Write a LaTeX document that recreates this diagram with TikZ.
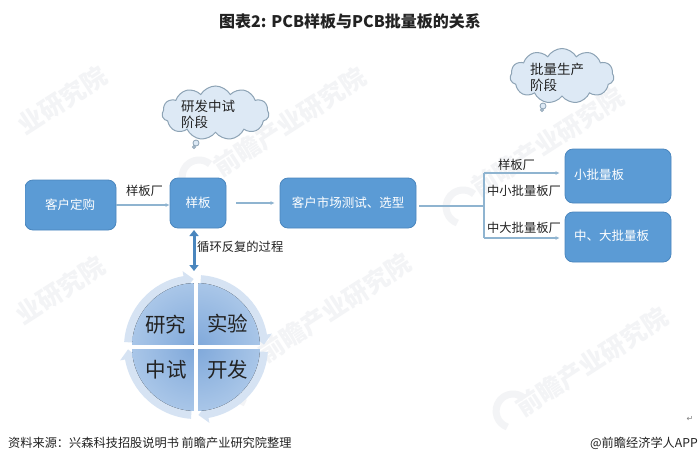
\documentclass[tikz,border=0pt]{standalone}
\usepackage{fontspec}
\setmainfont{Noto Sans CJK SC}
\newfontfamily\symbolfont{DejaVu Sans}
\usetikzlibrary{arrows.meta,shapes.symbols}
\definecolor{boxblue}{HTML}{5B9BD5}
\definecolor{boxedge}{HTML}{4A86BE}
\definecolor{linkblue}{HTML}{8FB4D0}
\definecolor{cloudfill}{HTML}{DDE9F5}
\definecolor{cloudedge}{HTML}{8DA3B5}
\definecolor{ringblue}{HTML}{D6E3F3}
\definecolor{quadin}{HTML}{7FA8DA}
\definecolor{quadout}{HTML}{A9C6E8}
\definecolor{wm}{HTML}{F3F4F6}
\definecolor{darktext}{HTML}{222222}
\tikzset{
  bluebox/.style={draw=boxedge,line width=0.8pt,fill=boxblue,rounded corners=8pt,inner sep=0pt},
  boxtext/.style={text=white,font=\fontsize{12.5}{14}\selectfont,inner sep=0pt,anchor=west},
  lab/.style={text=darktext,font=\fontsize{12.3}{14}\selectfont,inner sep=0pt},
  link/.style={draw=linkblue,line width=1.1pt,-{Latex[length=4pt,width=4pt]}},
  linkplain/.style={draw=linkblue,line width=1.1pt},
  thought/.style={cloud,cloud puffs=11,cloud puff arc=120,aspect=2,draw=cloudedge,line width=1pt,fill=cloudfill,inner sep=0pt},
  bubble/.style={circle,draw=cloudedge,line width=0.8pt,fill=cloudfill,inner sep=0pt},
  cytext/.style={text=darktext,font=\fontsize{13.5}{16}\selectfont,inner sep=0pt,anchor=west},
  quadtext/.style={text=darktext,font=\fontsize{20.5}{24}\selectfont,inner sep=0pt},
  water/.style={text=wm,font=\fontsize{25}{28}\selectfont\bfseries,rotate=33,inner sep=0pt},
  ring/.style={fill=ringblue,draw=none},
  quad/.style={inner color=quadin,outer color=quadout},
}
\begin{document}
\begin{tikzpicture}[x=1pt,y=-1pt]
\path[use as bounding box] (0,0) rectangle (700,464);
\fill[white] (0,0) rectangle (700,464);
% watermarks
\node[water] (w1) at (62,100) {业研究院};
\node[water] (w2) at (290,122) {前瞻产业研究院};
\node[water] (w3) at (548,142) {前瞻产业研究院};
\node[water] (w4) at (60,290) {业研究院};
\node[water] (w5) at (335,308) {前瞻产业研究院};
\node[water] (w6) at (592,362) {前瞻产业研究院};
\foreach \px/\py in {198/178,462/208,250/388,512/412}{
  \draw[wm,line width=7pt] (\px+12,\py-14) arc (-50:-250:17);
}
% title
\node[font=\fontsize{16}{18}\selectfont\bfseries,text=darktext,inner sep=0pt] (title) at (350,21) {图表2: PCB样板与PCB批量板的关系};
% clouds
\node[thought,minimum width=107pt,minimum height=54pt] (c1) at (215.5,113) {};
\node[bubble,minimum size=6pt] (c1a) at (196,143) {};
\node[bubble,minimum size=3pt] (c1b) at (194,147) {};
\node[cytext] (c1t) at (181,106) {研发中试};
\node[cytext] (c1u) at (181,122) {阶段};
\node[thought,minimum width=104pt,minimum height=55pt] (c2) at (562,76) {};
\node[bubble,minimum size=6pt] (c2a) at (543,106) {};
\node[bubble,minimum size=3pt] (c2b) at (542,110) {};
\node[cytext] (c2t) at (530,69) {批量生产};
\node[cytext] (c2u) at (530,85) {阶段};
% boxes
\node[bluebox,minimum width=91pt,minimum height=50pt] (b1) at (70.5,205) {};
\fill[white] (24,175) rectangle (25.2,235);
\node[boxtext,anchor=center] (b1t) at (70,204.5) {客户定购};
\node[bluebox,minimum width=56pt,minimum height=50pt] (b2) at (198,203) {};
\node[boxtext,anchor=center] (b2t) at (198,203) {样板};
\node[bluebox,minimum width=136pt,minimum height=50pt] (b3) at (348,203) {};
\node[boxtext,anchor=center] (b3t) at (348,203) {客户市场测试、选型};
\node[bluebox,minimum width=106pt,minimum height=54pt] (b4) at (618,176) {};
\node[boxtext] (b4t) at (574,175) {小批量板};
\node[bluebox,minimum width=106pt,minimum height=50pt] (b5) at (618,237) {};
\node[boxtext] (b5t) at (574,236) {中、大批量板};
% connectors
\draw[link] (b1.east) -- (b2.west |- b1.east);
\draw[link,shorten <=10pt,shorten >=5pt] (b2.east) -- (b3.west);
\coordinate (jn) at (484,206);
\coordinate (jt) at (484,173);
\coordinate (jb) at (484,238);
\draw[linkplain,shorten <=3pt] (b3.east |- jn) -- (jn);
\draw[linkplain] (jt) -- (jb);
\draw[link,shorten >=5pt] (jt) -- (b4.west |- jt);
\draw[link,shorten >=5pt] (jb) -- (b5.west |- jb);
\node[lab] (l1) at (144.5,190.5) {样板厂};
\node[lab] (l2) at (516.5,164.5) {样板厂};
\node[lab] (l3) at (524,191) {中小批量板厂};
\node[lab] (l4) at (524,228) {中大批量板厂};
\node[lab,anchor=west] (l5) at (197,247) {循环反复的过程};
% cycle
\coordinate (cc) at (196,347);
\draw[draw=boxedge,line width=3pt,{Triangle[length=6pt,width=9pt]}-{Triangle[length=6pt,width=9pt]}] (194,230) -- (194,271);
\begin{scope}[shift={(cc)}]
\foreach \s in {0,90,180,270}{
  \path[ring] (\s+4:64) arc (\s+4:\s+80:64) -- (\s+80:59) -- (\s+88:68) -- (\s+80:77) -- (\s+80:72) arc (\s+80:\s+4:72) -- cycle;
}
\begin{scope}\clip (-64,-64) rectangle (-2.5,-2.5); \fill[quad] (0,0) circle[radius=64]; \end{scope}
\begin{scope}\clip (2.5,-64) rectangle (64,-2.5); \fill[quad] (0,0) circle[radius=64]; \end{scope}
\begin{scope}\clip (-64,2.5) rectangle (-2.5,64); \fill[quad] (0,0) circle[radius=64]; \end{scope}
\begin{scope}\clip (2.5,2.5) rectangle (64,64); \fill[quad] (0,0) circle[radius=64]; \end{scope}
\end{scope}
\node[quadtext] (q1) at (165.5,325) {研究};
\node[quadtext] (q2) at (227.5,324) {实验};
\node[quadtext] (q3) at (166,370) {中试};
\node[quadtext] (q4) at (227.5,370) {开发};
% footer
\node[text=darktext,font=\fontsize{12.2}{14}\selectfont,inner sep=0pt,anchor=west] (src) at (8,443) {资料来源：兴森科技招股说明书 前瞻产业研究院整理};
\node[text=darktext,font=\fontsize{12.2}{14}\selectfont,inner sep=0pt,anchor=east] (app) at (698,443) {@前瞻经济学人APP};
\node[text=gray,font=\symbolfont\fontsize{8}{9}\selectfont,inner sep=0pt] (ret) at (690,419) {↵};
\end{tikzpicture}
\end{document}
